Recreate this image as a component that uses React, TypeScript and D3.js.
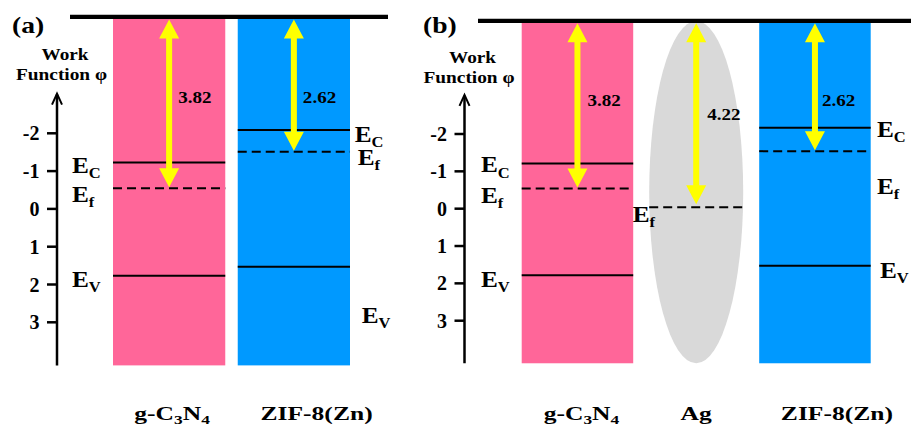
import React from "react";
import * as d3 from "d3";

// ---------- data ----------
const yTicks = [-2, -1, 0, 1, 2, 3];

const panelACategories = ["g-C3N4", "ZIF-8(Zn)"];
const panelAEc: (number | null)[] = [-1.23, -2.09];
const panelAEf: (number | null)[] = [-0.545, -1.51];
const panelAEv: (number | null)[] = [1.77, 1.53];
const panelAGap = ["3.82", "2.62"];
const panelAVacuum = -5.08;

const panelBCategories = ["g-C3N4", "Ag", "ZIF-8(Zn)"];
const panelBEc: (number | null)[] = [-1.21, null, -2.17];
const panelBEf: (number | null)[] = [-0.54, -0.04, -1.54];
const panelBEv: (number | null)[] = [1.78, null, 1.53];
const panelBGap = ["3.82", "4.22", "2.62"];
const panelBVacuum = -5.03;

const axisTopValue = -3.05;
const axisBottomValue = 4.14;

// ---------- styles / layout ----------
const FONT = '"Liberation Serif", "Times New Roman", Times, serif';
const colorOf: Record<string, string> = {
  "g-C3N4": "#FF6699",
  "ZIF-8(Zn)": "#0099FF",
  Ag: "#D9D9D9",
};

type LabelPos = { [k: string]: [number, number] };

const panels = [
  {
    tag: "(a)",
    tagX: 12,
    axisX: 57,
    yRange: [133.3, 322.3],
    xRange: [113, 350],
    padInner: 0.1,
    lineX: [70, 388],
    categories: panelACategories,
    ec: panelAEc,
    ef: panelAEf,
    ev: panelAEv,
    gap: panelAGap,
    vacuum: panelAVacuum,
    workDy: [60, 80],
    gapLabel: [
      [9, 86],
      [9, 86],
    ],
    nameDx: [3, 22.7],
    eLabels: [
      { Ec: [-41, 11], Ef: [-41, 14], Ev: [-41, 11.5] },
      { Ec: [117, 11.7], Ef: [120, 13.3], Ev: [124, 56] },
    ] as LabelPos[],
  },
  {
    tag: "(b)",
    tagX: 423,
    axisX: 464.5,
    yRange: [134, 320.7],
    xRange: [521.7, 870.7],
    padInner: 0.061,
    lineX: [478, 911],
    categories: panelBCategories,
    ec: panelBEc,
    ef: panelBEf,
    ev: panelBEv,
    gap: panelBGap,
    vacuum: panelBVacuum,
    workDy: [63, 83],
    gapLabel: [
      [10, 85],
      [11, 99],
      [7, 85],
    ],
    nameDx: [4, 0, 22],
    eLabels: [
      { Ec: [-40.7, 9], Ef: [-40.7, 14], Ev: [-40.7, 12] },
      { Ef: [-7.75, 15] },
      { Ec: [117.8, 9.5], Ef: [117.8, 43], Ev: [120.8, 12.5] },
    ] as LabelPos[],
  },
];

function SText({
  x,
  y,
  sx = 1,
  size,
  anchor = "start",
  len,
  children,
}: {
  x: number;
  y: number;
  sx?: number;
  size: number;
  anchor?: string;
  len?: number;
  children: React.ReactNode;
}) {
  const extra: any = len ? { textLength: len, lengthAdjust: "spacingAndGlyphs" } : {};
  return (
    <text
      transform={`translate(${x},${y}) scale(${sx},1)`}
      style={{ fontFamily: FONT, fontWeight: 700, fontSize: `${size}px` }}
      textAnchor={anchor as any}
      fill="#000"
      {...extra}
    >
      {children}
    </text>
  );
}

// subscript digits that follow an uppercase letter
function formula(name: string, size: number) {
  const parts: React.ReactNode[] = [];
  let sub = false;
  const chars = name.split("");
  chars.forEach((c, i) => {
    const isSub = /\d/.test(c) && i > 0 && /[A-Z]/.test(chars[i - 1]);
    if (isSub) {
      parts.push(
        <tspan key={i} style={{ fontSize: `${size * 0.68}px` }} dy={4}>
          {c}
        </tspan>
      );
      sub = true;
    } else {
      parts.push(
        <tspan key={i} dy={sub ? -4 : 0}>
          {c}
        </tspan>
      );
      sub = false;
    }
  });
  return parts;
}

function ELabel({ x, y, sub }: { x: number; y: number; sub: string }) {
  return (
    <SText x={x} y={y} sx={1.1} size={23}>
      <tspan>E</tspan>
      <tspan style={{ fontSize: "15px" }} dy={5}>
        {sub}
      </tspan>
    </SText>
  );
}

function arrowPath(x: number, y1: number, y2: number) {
  const hw = 10,
    hl = 19,
    sw = 3;
  const p = d3.path();
  p.moveTo(x, y1);
  p.lineTo(x + hw, y1 + hl);
  p.lineTo(x + sw, y1 + hl);
  p.lineTo(x + sw, y2 - hl);
  p.lineTo(x + hw, y2 - hl);
  p.lineTo(x, y2);
  p.lineTo(x - hw, y2 - hl);
  p.lineTo(x - sw, y2 - hl);
  p.lineTo(x - sw, y1 + hl);
  p.lineTo(x - hw, y1 + hl);
  p.closePath();
  return p.toString();
}

function Panel({ cfg }: { cfg: (typeof panels)[number] }) {
  const y = d3.scaleLinear().domain([-2, 3]).range(cfg.yRange);
  const x = d3
    .scaleBand<string>()
    .domain(cfg.categories)
    .range(cfg.xRange as [number, number])
    .paddingInner(cfg.padInner)
    .paddingOuter(0);
  const bw = x.bandwidth();
  const vacY = y(cfg.vacuum);
  const botY = y(axisBottomValue);
  const topY = y(axisTopValue);
  const ax = cfg.axisX;

  return (
    <g>
      {cfg.categories.map((c) => {
        const x0 = x(c)!;
        if (c === "Ag") {
          return (
            <ellipse
              key={c}
              cx={x0 + bw / 2}
              cy={(vacY + botY) / 2}
              rx={47}
              ry={(botY - vacY) / 2}
              fill={colorOf[c]}
            />
          );
        }
        return (
          <rect key={c} x={x0} y={vacY} width={bw} height={botY - vacY} fill={colorOf[c]} />
        );
      })}

      {cfg.categories.map((c, i) => {
        const x0 = x(c)!;
        const lx0 = c === "Ag" ? x0 + bw / 2 - 47 : x0;
        const lx1 = c === "Ag" ? x0 + bw / 2 + 47 : x0 + bw;
        const out: React.ReactNode[] = [];
        const ec = cfg.ec[i];
        const ef = cfg.ef[i];
        const ev = cfg.ev[i];
        if (ec != null)
          out.push(<line key="ec" x1={lx0} x2={lx1} y1={y(ec)} y2={y(ec)} stroke="#000" strokeWidth={2} />);
        if (ev != null)
          out.push(<line key="ev" x1={lx0} x2={lx1} y1={y(ev)} y2={y(ev)} stroke="#000" strokeWidth={2} />);
        if (ef != null)
          out.push(
            <line
              key="ef"
              x1={lx0}
              x2={lx1}
              y1={y(ef)}
              y2={y(ef)}
              stroke="#000"
              strokeWidth={2}
              strokeDasharray="9,5"
            />
          );
        return <g key={c}>{out}</g>;
      })}

      <line x1={cfg.lineX[0]} x2={cfg.lineX[1]} y1={vacY} y2={vacY} stroke="#000" strokeWidth={4.2} />

      {cfg.categories.map((c, i) => {
        const cx = x(c)! + bw / 2;
        const ef = cfg.ef[i]!;
        const endY = c === "Ag" ? y(ef) - 3 : y(ef) - 1;
        return <path key={c} d={arrowPath(cx, vacY + 2.5, endY)} fill="#FFFF00" />;
      })}

      {cfg.categories.map((c, i) => {
        const cx = x(c)! + bw / 2;
        const [dx, dy] = cfg.gapLabel[i];
        return (
          <SText key={c} x={cx + dx} y={vacY + dy} sx={1.12} size={17}>
            {cfg.gap[i]}
          </SText>
        );
      })}

      {cfg.categories.map((c, i) => {
        const x0 = x(c)!;
        const pos = cfg.eLabels[i];
        const vals: { [k: string]: number | null } = { Ec: cfg.ec[i], Ef: cfg.ef[i], Ev: cfg.ev[i] };
        const subs: { [k: string]: string } = { Ec: "C", Ef: "f", Ev: "V" };
        return (
          <g key={c}>
            {Object.keys(pos).map((k) =>
              vals[k] != null ? (
                <ELabel key={k} x={x0 + pos[k][0]} y={y(vals[k]!) + pos[k][1]} sub={subs[k]} />
              ) : null
            )}
          </g>
        );
      })}

      <line x1={ax} x2={ax} y1={topY + 1} y2={botY} stroke="#000" strokeWidth={2.5} />
      <path
        d={`M${ax - 5},${topY + 11} L${ax},${topY} L${ax + 5},${topY + 11}`}
        fill="none"
        stroke="#000"
        strokeWidth={2}
      />
      {yTicks.map((t) => (
        <g key={t}>
          <line x1={ax - 10} x2={ax} y1={y(t)} y2={y(t)} stroke="#000" strokeWidth={2.5} />
          <SText x={ax - 17.5} y={y(t) + 7} size={20} anchor="end">
            {String(t)}
          </SText>
        </g>
      ))}

      <SText x={ax + 8} y={cfg.workDy[0]} size={16} anchor="middle" len={47}>
        Work
      </SText>
      <SText x={ax + 4.5} y={cfg.workDy[1]} size={16} anchor="middle" len={91}>
        Function φ
      </SText>

      <SText x={cfg.tagX} y={33} sx={1.15} size={24}>
        {cfg.tag}
      </SText>

      {cfg.categories.map((c, i) => (
        <SText key={c} x={x(c)! + bw / 2 + cfg.nameDx[i]} y={420} sx={1.42} size={18} anchor="middle">
          {formula(c, 18)}
        </SText>
      ))}
    </g>
  );
}

export default function App() {
  return (
    <svg width={911} height={428} style={{ position: "absolute", left: 0, top: 0, background: "#fff" }}>
      <rect x={0} y={0} width={911} height={428} fill="#fff" />
      {panels.map((p) => (
        <Panel key={p.tag} cfg={p} />
      ))}
    </svg>
  );
}
